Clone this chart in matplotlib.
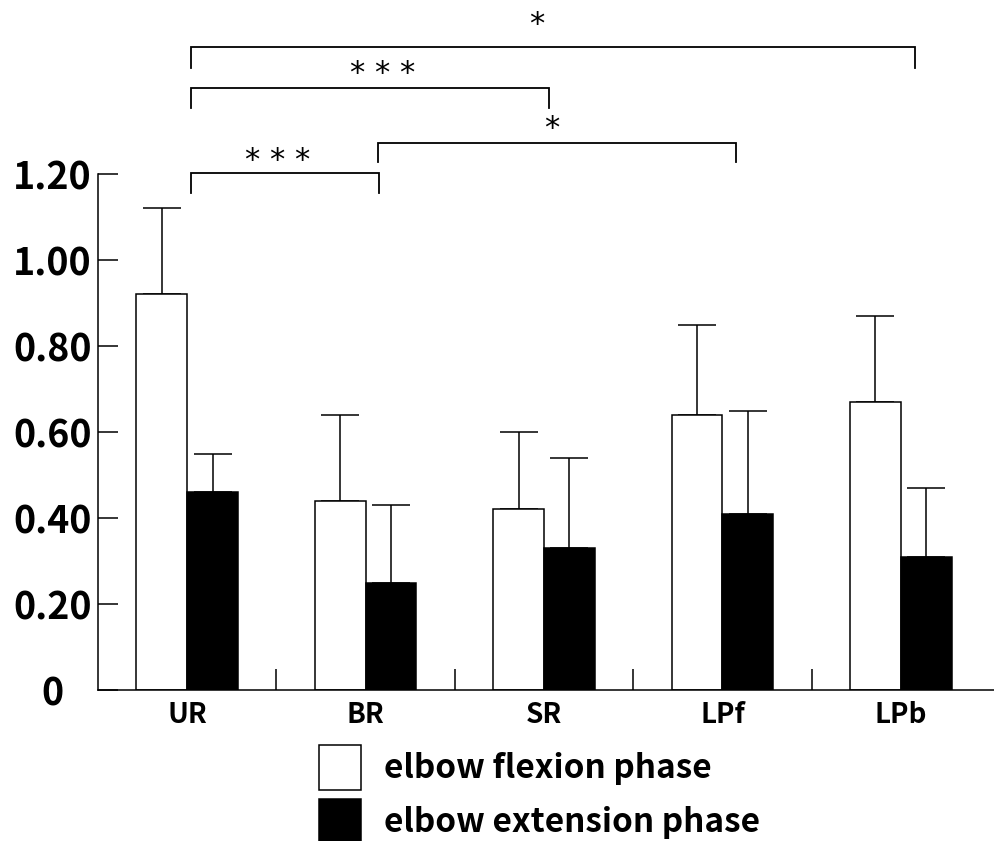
import numpy as np
import matplotlib
matplotlib.use("Agg")
import matplotlib.pyplot as plt
from matplotlib.ticker import FixedLocator, NullFormatter

# ── データ ──
muscles = ["UR", "BR", "SR", "LPf", "LPb"]
flexion_mean = [0.92, 0.44, 0.42, 0.64, 0.67]
flexion_sd = [0.20, 0.20, 0.18, 0.21, 0.20]
extension_mean = [0.46, 0.25, 0.33, 0.41, 0.31]
extension_sd = [0.09, 0.18, 0.21, 0.24, 0.16]
legend_labels = ["elbow flexion phase", "elbow extension phase"]
y_ticks = [0, 0.2, 0.4, 0.6, 0.8, 1.0, 1.2]

# 有意差 (左, 右, 記号)
sig_pairs = [("UR", "LPb", "*"),
             ("UR", "SR", "* * *"),
             ("BR", "LPf", "*"),
             ("UR", "BR", "* * *")]

# ── レイアウト ──
BAR_W = 0.285
LW = 1.1
# 各ブラケット: 左端ずれ, 右端ずれ, 高さ, 脚の長さ, 記号のずれ(x, y)
SIG_LAYOUT = [(0.02, 0.08, 1.495, 0.048, -0.09, 0.034),
              (0.02, 0.03, 1.400, 0.047, 0.07, 0.013),
              (0.07, 0.076, 1.272, 0.045, -0.03, 0.013),
              (0.02, 0.075, 1.202, 0.046, -0.04, 0.009)]

FONT = ["Noto Sans CJK JP", "DejaVu Sans"]
plt.rcParams["font.family"] = FONT

fig = plt.figure(figsize=(9.94, 8.41), dpi=100)
ax = fig.add_axes([98 / 994, 1 - 690 / 841, 892 / 994, 516 / 841])

x = np.arange(len(muscles))
err_kw = dict(elinewidth=LW, capthick=LW, capsize=13.5, ecolor="black")

b1 = ax.bar(x - BAR_W / 2, flexion_mean, BAR_W, color="white", edgecolor="black",
            linewidth=LW, label=legend_labels[0], zorder=2)
b2 = ax.bar(x + BAR_W / 2, extension_mean, BAR_W, color="black", edgecolor="black",
            linewidth=LW, label=legend_labels[1], zorder=2)
ax.errorbar(x - BAR_W / 2, flexion_mean,
            yerr=[np.zeros(len(x)), flexion_sd], fmt="none", zorder=1, **err_kw)
ax.errorbar(x + BAR_W / 2, extension_mean,
            yerr=[np.zeros(len(x)), extension_sd], fmt="none", zorder=1, **err_kw)

ax.set_xlim(-0.5, len(muscles) - 0.5)
ax.set_ylim(0, 1.2)

for s in ["top", "right"]:
    ax.spines[s].set_visible(False)
for s in ["left", "bottom"]:
    ax.spines[s].set_linewidth(LW)
ax.spines["bottom"].set_bounds(-0.5, len(muscles) - 0.48)

ax.set_yticks(y_ticks)
ax.set_yticklabels(["0" if v == 0 else f"{v:.2f}" for v in y_ticks])
ax.tick_params(axis="y", direction="in", length=14.4, width=LW, pad=33,
               labelsize=27)
for lab in ax.get_yticklabels():
    lab.set_ha("center")
    lab.set_weight("bold")

ax.set_xticks(x)
ax.set_xticklabels(muscles)
ax.tick_params(axis="x", which="major", length=0, pad=8, labelsize=20)
for lab in ax.get_xticklabels():
    lab.set_weight("bold")
ax.xaxis.set_minor_locator(FixedLocator(x[:-1] + 0.5))
ax.xaxis.set_minor_formatter(NullFormatter())
ax.tick_params(axis="x", which="minor", direction="in", length=15, width=LW)

# 有意差ブラケット
for (a, b, mark), (d0, d1, y, leg, dx, dy) in zip(sig_pairs, SIG_LAYOUT):
    x0 = muscles.index(a) + d0
    x1 = muscles.index(b) + d1
    ax.plot([x0, x0, x1, x1], [y - leg, y, y, y - leg], color="black",
            lw=1.3, clip_on=False, solid_joinstyle="miter")
    ax.text((x0 + x1) / 2 + dx, y + dy, mark, ha="center", va="baseline",
            fontsize=22, family="DejaVu Sans", clip_on=False)

fig.legend(handles=[b1, b2], labels=legend_labels, loc="upper left",
           bbox_to_anchor=(319 / 994, 1 - 745 / 841), frameon=False,
           prop=dict(family=FONT, size=24, weight="bold"),
           handlelength=1.26, handleheight=1.69, handletextpad=0.68,
           labelspacing=0.28, borderpad=0, borderaxespad=0)

fig.savefig("out.png", dpi=100)
